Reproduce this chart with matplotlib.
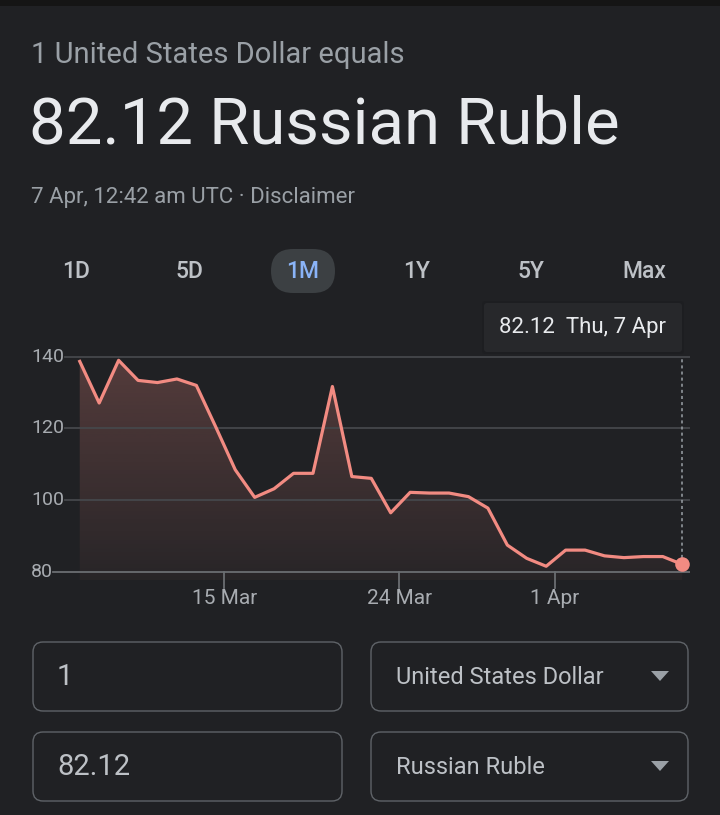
import numpy as np
import pandas as pd
import matplotlib
matplotlib.use("Agg")
import matplotlib.pyplot as plt
import matplotlib.dates as mdates
from matplotlib.patches import FancyBboxPatch, Rectangle, Polygon

plt.rcParams["font.family"] = ["Roboto", "DejaVu Sans"]

dates = pd.date_range("2022-03-07 13:30", periods=32, freq="D")
rates = [138.7, 127.1, 139.0, 133.4, 132.8, 133.8, 132.0, 120.4,
         108.5, 100.8, 103.2, 107.5, 107.5, 131.7, 106.6, 106.1,
         96.5, 102.2, 102.0, 102.0, 101.0, 97.8, 87.5, 83.8,
         81.6, 86.1, 86.1, 84.5, 84.0, 84.3, 84.3, 82.12]
y_ticks = [80, 100, 120, 140]
x_ticks = pd.to_datetime(["2022-03-15", "2022-03-24", "2022-04-01"])
x_tick_labels = ["15 Mar", "24 Mar", "1 Apr"]
ranges = ["1D", "5D", "1M", "1Y", "5Y", "Max"]
active_range = "1M"

BG = "#202124"
LINE = "#f28b82"
GREY = "#9aa0a6"
LIGHT = "#e8eaed"

W, H = 720, 815
fig = plt.figure(figsize=(W / 100, H / 100), dpi=100, facecolor=BG)

# ---------------------------------------------------------------------
# UI-Ebene in Pixelkoordinaten
# ---------------------------------------------------------------------
ui = fig.add_axes([0, 0, 1, 1])
ui.set_xlim(0, W)
ui.set_ylim(H, 0)
ui.axis("off")
ui.add_patch(Rectangle((0, 0), W, 6, color="#151515", lw=0))

ui.text(31, 55, "1 United States Dollar equals", color=GREY, fontsize=21,
        va="center", ha="left")
ui.text(29, 126, "82.12 Russian Ruble", color=LIGHT, fontsize=47,
        va="center", ha="left")
ui.text(31, 198, "7 Apr, 12:42 am UTC \u00b7 Disclaimer", color=GREY,
        fontsize=16, va="center", ha="left")

# Zeitraum-Buttons
btn_x = [76, 189, 303, 417, 531, 644]
for label, bx in zip(ranges, btn_x):
    if label == active_range:
        ui.add_patch(FancyBboxPatch((bx - 32, 249), 64, 44,
                                    boxstyle="round,pad=0,rounding_size=22",
                                    fc="#3c4043", ec="none"))
        col = "#8ab4f8"
    else:
        col = "#bdc1c6"
    ui.text(bx, 271, label, color=col, fontsize=16.5, fontweight="medium",
            ha="center", va="center")

# Tooltip
ui.add_patch(FancyBboxPatch((482, 301), 202, 53,
                            boxstyle="round,pad=0,rounding_size=3",
                            fc="#1b1c1f", ec="none", alpha=0.6))
ui.add_patch(FancyBboxPatch((484, 303), 198, 49,
                            boxstyle="round,pad=0,rounding_size=3",
                            fc="#27282b", ec="none"))
ui.text(499, 328, f"{rates[-1]:.2f}  Thu, 7 Apr", color=LIGHT, fontsize=16,
        ha="left", va="center")

# Eingabefelder
boxes = [(33, 642, 309, "1", 21, 57),
         (371, 642, 317, "United States Dollar", 17, 396),
         (33, 732, 309, "82.12", 21, 57),
         (371, 732, 317, "Russian Ruble", 17, 396)]
for bx, by, bw, txt, fs, tx in boxes:
    ui.add_patch(FancyBboxPatch((bx, by), bw, 69,
                                boxstyle="round,pad=0,rounding_size=10",
                                fc="none", ec="#5f6368", lw=1.0))
    ui.text(tx, by + 35, txt, color="#bdc1c6", fontsize=fs,
            ha="left", va="center")
    if bx > 300:
        cy = by + 34
        ui.add_patch(Polygon([[651, cy - 5], [669, cy - 5], [660, cy + 5]],
                             closed=True, fc=GREY, ec="none"))

# ---------------------------------------------------------------------
# Chart
# ---------------------------------------------------------------------
ax = fig.add_axes([31 / W, 1 - 580 / H, 659 / W, 240 / H])
ax.set_facecolor("none")
ax.axis("off")

x = mdates.date2num(dates)
xt = mdates.date2num(x_ticks)
px_day = (554.7 - 224.3) / (xt[2] - xt[0])
x_left = xt[0] - (224.3 - 31) / px_day
x_right = xt[2] + (690 - 554.7) / px_day
px_val = 215 / 60.0
y_bot = 80 - (580 - 572) / px_val
y_top = 140 + (356.7 - 340) / px_val
ax.set_xlim(x_left, x_right)
ax.set_ylim(y_bot, y_top)

# Farbverlauf unter der Kurve
grad = np.linspace(0.27, 0.04, 256)[:, None]
rgba = np.zeros((256, 1, 4))
rgba[..., 0] = 242 / 255
rgba[..., 1] = 139 / 255
rgba[..., 2] = 130 / 255
rgba[..., 3] = grad
im = ax.imshow(rgba, extent=[x_left, x_right, y_bot, y_top], aspect="auto",
               origin="upper", zorder=1)
fill = ax.fill_between(x, rates, y_bot, color="none", lw=0)
im.set_clip_path(fill.get_paths()[0], transform=ax.transData)

# Gitterlinien
for v in y_ticks:
    start = 53 if v == 80 else 65
    ax.axhline(v, xmin=(start - 31) / 659, xmax=1,
               color="#6b6e72" if v == 80 else "#45474b", lw=1.3, zorder=2)
    ax.text(0, v, str(v), transform=ax.get_yaxis_transform(),
            color="#a8acb1", fontsize=14, ha="left", va="center")

# x-Ticks
tick_bottom = 80 - (588 - 572) / px_val
label_y = 80 - (598 - 572) / px_val
for t, lab in zip(xt, x_tick_labels):
    ax.plot([t, t], [80, tick_bottom], color="#6b6e72", lw=1.3,
            clip_on=False, zorder=2)
    ax.text(t, label_y, lab, color="#a8acb1", fontsize=15, ha="center",
            va="center", clip_on=False)

ax.plot(x, rates, color=LINE, lw=2.3, solid_joinstyle="round", zorder=3)

# gestrichelte Markierung + Endpunkt
ax.plot([x[-1], x[-1]], [rates[-1], 140 - 1.3 / px_val], color=GREY,
        lw=1.1, linestyle=(0, (2, 2)), zorder=2)
ax.plot(x[-1], rates[-1], "o", ms=10.5, color=LINE, mec="none", zorder=4,
        clip_on=False)

fig.savefig("out.png", dpi=100, facecolor=BG)
